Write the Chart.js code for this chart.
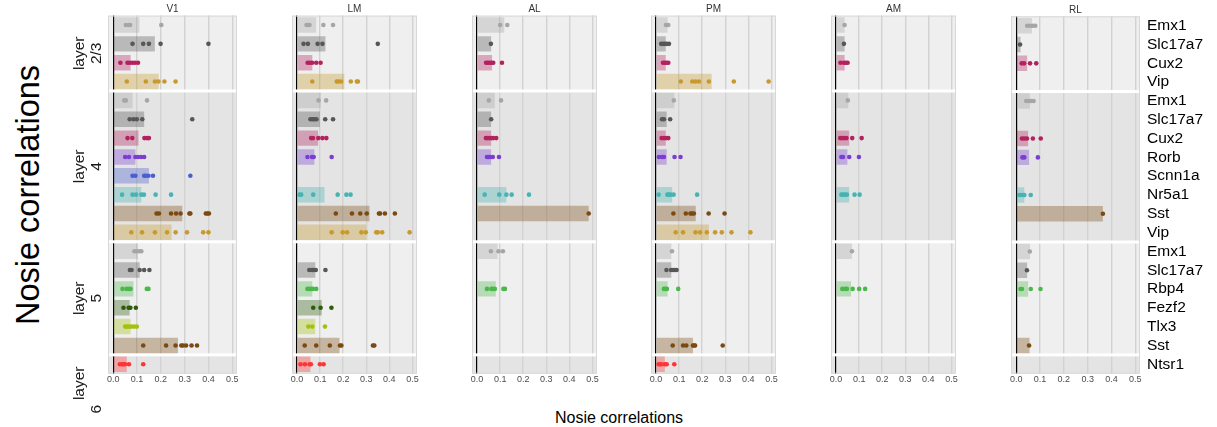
<!DOCTYPE html>
<html>
<head>
<meta charset="utf-8">
<script src="https://cdn.jsdelivr.net/npm/chart.js@4/dist/chart.umd.min.js"></script>
<style>
body { margin: 0; background: #fff; width: 1217px; height: 427px; overflow: hidden; position: relative; font-family: "Liberation Sans", Arial, sans-serif; }
.panel { position: absolute; top: 0; height: 427px; }
#ytitle { position: absolute; left: 28px; top: 195px; transform: translate(-50%, -50%) rotate(-90deg); font-size: 32.5px; white-space: nowrap; color: #000; }
#xtitle { position: absolute; left: 619px; top: 418px; transform: translate(-50%, -50%); font-size: 16px; white-space: nowrap; color: #000; }
</style>
</head>
<body>
<div id="ytitle">Nosie correlations</div>
<div id="xtitle">Nosie correlations</div>
<div id="panels"></div>
<script>
// Rows (top to bottom) and layer groups
const rowLabels = ['Emx1', 'Slc17a7', 'Cux2', 'Vip',
    'Emx1', 'Slc17a7', 'Cux2', 'Rorb', 'Scnn1a', 'Nr5a1', 'Sst', 'Vip',
    'Emx1', 'Slc17a7', 'Rbp4', 'Fezf2', 'Tlx3', 'Sst',
    'Ntsr1'];
const layerNames = ['2/3', '4', '5', '6'];
const layerSizes = [4, 8, 6, 1];
const areas = ['V1', 'LM', 'AL', 'PM', 'AM', 'RL'];
const xTicks = [0, 0.1, 0.2, 0.3, 0.4, 0.5];

// Bar heights (one per row, null = no data)
const barsV1 = [0.11, 0.175, 0.073, 0.191, 0.081, 0.130, 0.106, 0.093, 0.150, 0.118, 0.29, 0.245, 0.104, 0.111, 0.085, 0.069, 0.073, 0.272, 0.057];
const barsLM = [0.083, 0.123, 0.066, 0.205, 0.103, 0.099, 0.091, 0.075, null, 0.119, 0.314, 0.30, null, 0.079, 0.066, 0.107, 0.079, 0.184, 0.058];
const barsAL = [0.118, 0.061, 0.065, null, 0.077, 0.061, 0.061, 0.061, null, 0.127, 0.484, null, 0.089, null, 0.081, null, null, null, null];
const barsPM = [0.050, 0.042, 0.042, 0.241, 0.079, 0.046, 0.042, 0.046, null, 0.070, 0.172, 0.229, 0.066, 0.066, 0.050, null, null, 0.160, 0.038];
const barsAM = [0.037, 0.037, 0.037, null, 0.053, null, 0.057, 0.049, null, 0.057, null, null, 0.069, null, 0.065, null, null, null, null];
const barsRL = [0.066, 0.018, 0.046, null, 0.058, null, 0.050, 0.054, null, 0.034, 0.364, null, 0.058, 0.046, 0.050, null, null, 0.056, null];

// Individual points per row
const dotsV1 = [
    [0.053, 0.066, 0.071, 0.202], [0.081, 0.126, 0.150, 0.199, 0.40], [0.030, 0.060, 0.069, 0.080, 0.091, 0.104], [0.057, 0.137, 0.175, 0.190, 0.215, 0.262],
    [0.046, 0.053, 0.142], [0.069, 0.085, 0.099, 0.122, 0.332], [0.060, 0.080, 0.131, 0.142, 0.150], [0.050, 0.066, 0.093, 0.104, 0.117, 0.130],
    [0.081, 0.093, 0.130, 0.137, 0.148, 0.167, 0.324], [0.037, 0.081, 0.096, 0.118, 0.129, 0.178, 0.243],
    [0.182, 0.192, 0.243, 0.264, 0.283, 0.320, 0.324, 0.389, 0.396, 0.402], [0.076, 0.121, 0.175, 0.226, 0.262, 0.310, 0.378, 0.40],
    [0.089, 0.100, 0.110, 0.118], [0.070, 0.077, 0.111, 0.130, 0.152], [0.039, 0.056, 0.066, 0.073, 0.141, 0.148], [0.043, 0.065, 0.072, 0.095],
    [0.050, 0.058, 0.066, 0.075, 0.087, 0.099], [0.126, 0.222, 0.262, 0.286, 0.293, 0.306, 0.329, 0.352],
    [0.028, 0.037, 0.043, 0.049, 0.066, 0.126]
];
const dotsLM = [
    [0.041, 0.049, 0.054, 0.114, 0.156], [0.028, 0.047, 0.089, 0.110, 0.350], [0.046, 0.056, 0.065, 0.083, 0.102], [0.066, 0.172, 0.180, 0.191, 0.233, 0.259, 0.264],
    [0.093, 0.126], [0.058, 0.068, 0.075, 0.084, 0.122, 0.156], [0.061, 0.069, 0.092, 0.110, 0.127], [0.045, 0.065, 0.072, 0.150],
    [], [0.011, 0.018, 0.070, 0.176, 0.214, 0.232],
    [0.168, 0.238, 0.274, 0.302, 0.355, 0.360, 0.381, 0.424], [0.150, 0.198, 0.217, 0.279, 0.298, 0.343, 0.350, 0.369, 0.488],
    [], [0.053, 0.066, 0.072, 0.081, 0.123], [0.045, 0.053, 0.061, 0.069, 0.083], [0.070, 0.102, 0.149],
    [0.049, 0.066, 0.121], [0.033, 0.083, 0.142, 0.186, 0.192, 0.329, 0.335],
    [0.015, 0.034, 0.054, 0.060, 0.099, 0.115]
];
const dotsAL = [
    [0.100, 0.131], [0.060], [0.039, 0.046, 0.054, 0.062, 0.070, 0.108], [],
    [0.051, 0.104], [0.061], [0.038, 0.046, 0.054, 0.062, 0.070, 0.083], [0.043, 0.050, 0.057, 0.068, 0.095],
    [], [0.033, 0.096, 0.127, 0.150, 0.225], [0.484], [],
    [0.060, 0.093, 0.112], [], [0.043, 0.062, 0.068, 0.077, 0.114, 0.121], [], [], [],
    []
];
const dotsPM = [
    [0.043, 0.053], [0.022, 0.030, 0.038, 0.046, 0.056], [0.030, 0.037, 0.045, 0.053], [0.107, 0.157, 0.171, 0.186, 0.229, 0.337, 0.488],
    [0.077], [0.026, 0.034, 0.061], [0.024, 0.034, 0.043, 0.053], [0.012, 0.026, 0.034, 0.080, 0.106],
    [], [0.011, 0.049, 0.056, 0.062, 0.076, 0.178],
    [0.075, 0.129, 0.149, 0.156, 0.164, 0.228, 0.297], [0.085, 0.117, 0.171, 0.191, 0.220, 0.256, 0.285, 0.327, 0.409],
    [0.069], [0.045, 0.065, 0.073, 0.081, 0.089], [0.034, 0.041, 0.047, 0.096], [], [],
    [0.072, 0.117, 0.131, 0.160, 0.165, 0.169, 0.289],
    [0.011, 0.018, 0.023, 0.038, 0.046, 0.079]
];
const dotsAM = [
    [0.037], [0.034], [0.019, 0.034, 0.042, 0.050], [],
    [0.051], [], [0.018, 0.026, 0.035, 0.045, 0.070, 0.111], [0.023, 0.030, 0.057, 0.099],
    [], [0.023, 0.031, 0.039, 0.047, 0.080, 0.102], [], [],
    [0.069], [], [0.027, 0.041, 0.047, 0.072, 0.100, 0.126], [], [], [],
    []
];
const dotsRL = [
    [0.046, 0.058, 0.069, 0.080], [0.016], [0.023, 0.033, 0.058, 0.084], [],
    [0.042, 0.053, 0.062, 0.073], [], [0.024, 0.034, 0.045, 0.070, 0.103], [0.026, 0.034, 0.091],
    [], [0.012, 0.020, 0.030, 0.034, 0.061], [0.364], [],
    [0.057], [0.045], [0.018, 0.024, 0.061, 0.102], [], [], [0.054],
    []
];

const barSets = [barsV1, barsLM, barsAL, barsPM, barsAM, barsRL];
const dotSets = [dotsV1, dotsLM, dotsAL, dotsPM, dotsAM, dotsRL];

// Marker colour per gene
const geneColors = {
    Emx1: '#a6a6a6', Slc17a7: '#575757', Cux2: '#b3225f', Vip: '#c89a2e',
    Rorb: '#7a3ed0', Scnn1a: '#4a5fd2', Nr5a1: '#47b3b3', Sst: '#7a4a12',
    Rbp4: '#4cb84c', Fezf2: '#2f5c0b', Tlx3: '#a6c012', Ntsr1: '#ff3535'
};

const FONT = '"Liberation Sans", Arial, sans-serif';

function fade(hex, a) {
    const n = parseInt(hex.slice(1), 16);
    return `rgba(${n >> 16}, ${(n >> 8) & 255}, ${n & 255}, ${a})`;
}

function groupEdges(y) {
    // pixel top/bottom of each layer group
    const edges = [];
    let start = 0;
    layerSizes.forEach(n => {
        edges.push([y.getPixelForValue(start - 0.5), y.getPixelForValue(start + n - 0.5)]);
        start += n;
    });
    return edges;
}

// Alternating layer backgrounds
const bandsPlugin = {
    id: 'bands',
    beforeDraw(chart) {
        const { ctx, chartArea: a, scales: { y } } = chart;
        ctx.save();
        groupEdges(y).forEach(([top, bot], k) => {
            ctx.fillStyle = k % 2 ? '#e4e4e4' : '#efefef';
            ctx.fillRect(a.left, top, a.width, bot - top);
        });
        ctx.restore();
    },
    beforeDatasetsDraw(chart) {
        const { ctx, chartArea: a, scales: { y } } = chart;
        ctx.save();
        ctx.fillStyle = '#ffffff';
        groupEdges(y).slice(1).forEach(([top]) => {
            ctx.fillRect(a.left, top - 1.5, a.width, 3);
        });
        ctx.strokeStyle = '#d8d8d8';
        ctx.lineWidth = 1;
        ctx.strokeRect(a.left + 0.5, a.top + 0.5, a.width - 1, a.height - 1);
        ctx.restore();
    }
};

// Layer strip labels on the left of the first panel
const layerLabelPlugin = {
    id: 'layerLabels',
    afterDraw(chart) {
        const { ctx, chartArea: a, scales: { y } } = chart;
        ctx.save();
        ctx.font = `15.5px ${FONT}`;
        ctx.fillStyle = '#1a1a1a';
        ctx.textAlign = 'center';
        ctx.textBaseline = 'middle';
        groupEdges(y).forEach(([top, bot], k) => {
            // a one-row strip is too short, its label hangs below it
            const short = layerSizes[k] === 1;
            ctx.save();
            ctx.translate(a.left - 20, (top + bot) / 2);
            ctx.rotate(-Math.PI / 2);
            ctx.fillText('layer', short ? -19 : 0, -8.5);
            ctx.fillText(layerNames[k], short ? -45 : 0, 8.5);
            ctx.restore();
        });
        ctx.restore();
    }
};

function buildPanel(i) {
    const first = i === 0;
    const last = i === areas.length - 1;
    const padLeft = first ? 50 : 0;
    const axisRight = last ? 80 : 0;
    const zero = 113.7 + i * 179.7;
    const panelLeft = Math.round(zero - 5.4);

    const wrap = document.createElement('div');
    wrap.className = 'panel';
    wrap.style.left = (panelLeft - padLeft) + 'px';
    wrap.style.width = (133 + padLeft + axisRight) + 'px';
    const canvas = document.createElement('canvas');
    wrap.appendChild(canvas);
    document.getElementById('panels').appendChild(wrap);

    const bars = barSets[i];
    const dots = dotSets[i];
    const barData = [], barColors = [];
    bars.forEach((v, r) => {
        if (v === null) return;
        barData.push({ x: v, y: r });
        barColors.push(fade(geneColors[rowLabels[r]], 0.35));
    });
    const dotData = [], dotColors = [];
    dots.forEach((list, r) => {
        list.forEach(v => {
            dotData.push({ x: v, y: r });
            dotColors.push(geneColors[rowLabels[r]]);
        });
    });

    new Chart(canvas, {
        type: 'scatter',
        data: {
            datasets: [{
                type: 'scatter',
                data: dotData,
                pointBackgroundColor: dotColors,
                pointBorderWidth: 0,
                pointRadius: 2.3
            }, {
                type: 'bar',
                indexAxis: 'y',
                data: barData,
                backgroundColor: barColors,
                borderWidth: 0,
                barPercentage: 0.82,
                categoryPercentage: 1
            }]
        },
        options: {
            responsive: true,
            maintainAspectRatio: false,
            animation: false,
            events: [],
            layout: { padding: { left: padLeft, top: 0, right: 0, bottom: 0 } },
            plugins: {
                legend: { display: false },
                tooltip: { enabled: false },
                title: {
                    display: true,
                    text: areas[i],
                    fullSize: false,
                    color: '#333',
                    font: { family: FONT, size: 10, weight: 'normal', lineHeight: 1 },
                    padding: { top: 4.5, bottom: 1.1 }
                }
            },
            scales: {
                x: {
                    type: 'linear',
                    position: 'bottom',
                    min: -0.022,
                    max: 0.52,
                    offset: false,
                    afterBuildTicks: s => { s.ticks = xTicks.map(v => ({ value: v })); },
                    afterFit: s => { s.height = 427 - 373.7; },
                    border: { display: false },
                    grid: {
                        offset: false,
                        drawTicks: false,
                        color: c => c.tick && c.tick.value === 0 ? '#000' : '#d2d2d2',
                        lineWidth: c => c.tick && c.tick.value === 0 ? 1.2 : 1.4
                    },
                    ticks: {
                        padding: 0,
                        color: '#4d4d4d',
                        font: { family: FONT, size: 9 },
                        callback: v => v.toFixed(1)
                    }
                },
                y: {
                    type: 'linear',
                    position: 'right',
                    reverse: true,
                    min: -0.5,
                    max: rowLabels.length - 0.5,
                    offset: false,
                    display: last,
                    afterBuildTicks: s => { s.ticks = rowLabels.map((l, r) => ({ value: r })); },
                    afterFit: s => { s.width = axisRight; },
                    border: { display: false },
                    grid: { display: false, drawTicks: false },
                    ticks: {
                        autoSkip: false,
                        padding: 7,
                        color: '#000',
                        font: { family: FONT, size: 15.5 },
                        callback: (v, idx) => rowLabels[idx]
                    }
                }
            }
        },
        plugins: first ? [bandsPlugin, layerLabelPlugin] : [bandsPlugin]
    });
}

areas.forEach((a, i) => buildPanel(i));
</script>
</body>
</html>
